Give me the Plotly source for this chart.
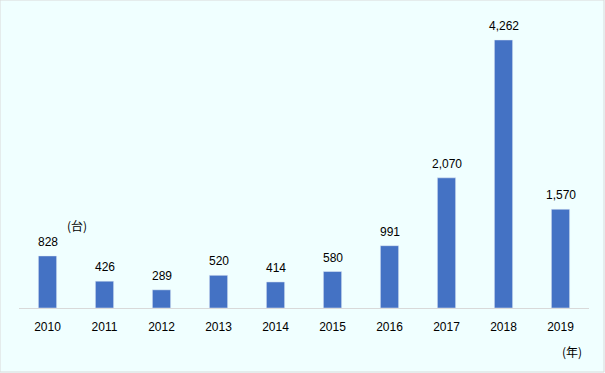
import plotly.graph_objects as go

years = ["2010", "2011", "2012", "2013", "2014", "2015", "2016", "2017", "2018", "2019"]
values = [828, 426, 289, 520, 414, 580, 991, 2070, 4262, 1570]
labels = [f"{v:,}" for v in values]

fig = go.Figure(go.Bar(
    x=years, y=values,
    marker=dict(color="#4472C4"), width=0.32,
))

W, H = 605, 373
ml, mr, mt, mb = 19, 16, 25, 65
annotations = [
    dict(text=t, x=i, y=v, xref="x", yref="y", yanchor="bottom", yshift=5,
         showarrow=False, font=dict(size=12, color="black"))
    for i, (v, t) in enumerate(zip(values, labels))
]
annotations += [
    dict(text="(台)", x=(77 - ml) / (W - ml - mr), y=(H - mb - 226) / (H - mt - mb),
         xanchor="center", yanchor="middle",
         xref="paper", yref="paper", showarrow=False, font=dict(size=12, family="Noto Sans CJK JP")),
    dict(text="(年)", x=(572 - ml) / (W - ml - mr), y=(H - mb - 351) / (H - mt - mb),
         xanchor="center", yanchor="middle",
         xref="paper", yref="paper", showarrow=False, font=dict(size=12, family="Noto Sans CJK JP")),
]
fig.update_layout(
    width=W, height=H,
    margin=dict(l=ml, r=mr, t=mt, b=mb, autoexpand=False),
    paper_bgcolor="#F0FFFF", plot_bgcolor="#F0FFFF",
    font=dict(family="Liberation Sans, Arial, sans-serif", size=12, color="black"),
    showlegend=False,
    xaxis=dict(type="category", range=[-0.5, 9.5], showline=True, linecolor="#D9D9D9",
               linewidth=1, ticks="", ticklabelstandoff=8,
               tickfont=dict(size=12, color="black"), showgrid=False),
    yaxis=dict(range=[0, 4500], visible=False, showgrid=False),
    annotations=annotations,
    shapes=[dict(type="rect", xref="paper", yref="paper",
                 x0=-ml / (W - ml - mr), x1=1 + (mr - 1) / (W - ml - mr),
                 y0=-(mb - 1) / (H - mt - mb), y1=1 + mt / (H - mt - mb),
                 line=dict(color="#D9D9D9", width=1), layer="below")],
)
fig.write_html("out.html", config={"displayModeBar": False},
               post_script="document.body.style.margin='0';")
